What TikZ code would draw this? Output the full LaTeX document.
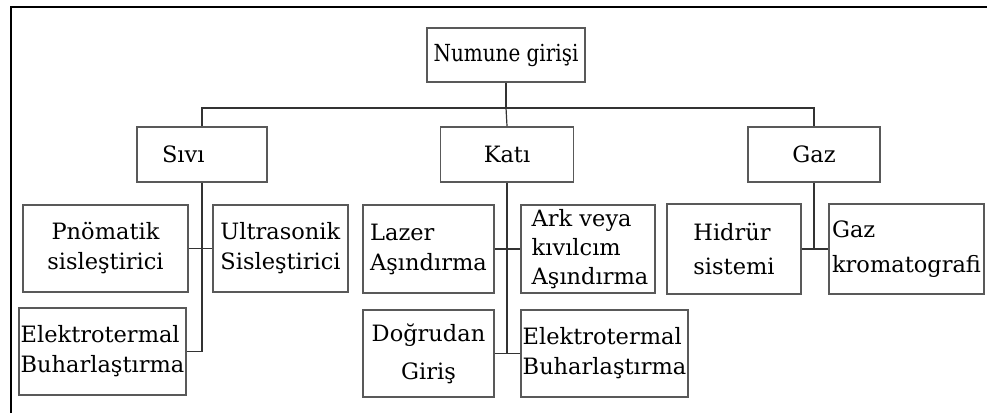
\documentclass[tikz,border=0pt]{standalone}
\usepackage{fontspec}
\setmainfont{DejaVu Serif}

\begin{document}
\begin{tikzpicture}[x = 1pt, y = -1pt,
		box/.style = {draw = black!65, line width = 1.8pt, inner sep = 2pt, align = left,
			font = \fontsize{22.5}{30}\selectfont},
		link/.style = {draw = black!80, line width = 1.2pt}]
	\useasboundingbox (0, 0) rectangle (987, 413);
	% frame
	\draw[line width = 2pt] (11, 413) -- (11, 7) -- (987, 7);
	% sample input
	\node[box, minimum width = 158pt, minimum height = 54pt, font = \fontsize{23.5}{30}\selectfont] (giris) at (506, 55) {\scalebox{0.85}[1]{Numune girişi}};
	% sample states
	\node[box, minimum width = 130pt, minimum height = 55pt, text width = 80pt] (sivi) at (202, 154.5) {Sıvı};
	\node[box, minimum width = 133pt, minimum height = 55pt] (kati) at (507, 154.5) {Katı};
	\node[box, minimum width = 132pt, minimum height = 55pt] (gaz)  at (814, 154.5) {Gaz};
	% liquid
	\node[box, minimum width = 165pt, minimum height = 87pt, align = center] (pnomatik) at (105.5, 248.5) {Pnömatik\\sisleştirici};
	\node[box, minimum width = 135pt, minimum height = 87pt] (ultrasonik) at (280.5, 248.5) {Ultrasonik\\Sisleştirici};
	\node[box, minimum width = 165pt, minimum height = 87pt] (etvsivi) at (102.5, 351.5) {Elektrotermal\\Buharlaştırma};
	% solid
	\node[box, minimum width = 131pt, minimum height = 88pt] (lazer) at (428.5, 249) {Lazer\\Aşındırma};
	\node[box, minimum width = 134pt, minimum height = 88pt, font = \fontsize{22.5}{29}\selectfont] (ark) at (588, 249) {\hspace{4pt}Ark veya\\\hspace{4pt}kıvılcım\\\hspace{4pt}Aşındırma};
	\node[box, minimum width = 131pt, minimum height = 87pt, align = center] (dogrudan) at (428.5, 353.5) {Doğrudan\\[8pt]Giriş};
	\node[box, minimum width = 163pt, minimum height = 87pt] (etvkati) at (604.5, 353.5) {Elektrotermal\\Buharlaştırma};
	% gas
	\node[box, minimum width = 134pt, minimum height = 90pt, font = \fontsize{22.5}{34}\selectfont] (hidrur) at (734, 249) {Hidrür\\sistemi};
	\node[box, minimum width = 155pt, minimum height = 90pt, font = \fontsize{22.5}{35}\selectfont] (kromato) at (906.5, 249) {Gaz\\kromatografi};
	% tree lines
	\draw[link] (giris.south) -- ++(0, 25) coordinate (bus);
	\draw[link] (sivi.north) |- (bus) -| (gaz.north);
	\draw[link] (bus) -- (kati.north);
	\draw[link] (sivi.south) |- (etvsivi.east);
	\draw[link] (pnomatik.east) -- (ultrasonik.west);
	\draw[link] (kati.south) |- (dogrudan.east);
	\draw[link] (lazer.east) -- (ark.west);
	\draw[link] (dogrudan.east) -- (etvkati.west);
	\draw[link] (gaz.south) |- (hidrur.east);
	\draw[link] (hidrur.east) -- (kromato.west);
\end{tikzpicture}
\end{document}
